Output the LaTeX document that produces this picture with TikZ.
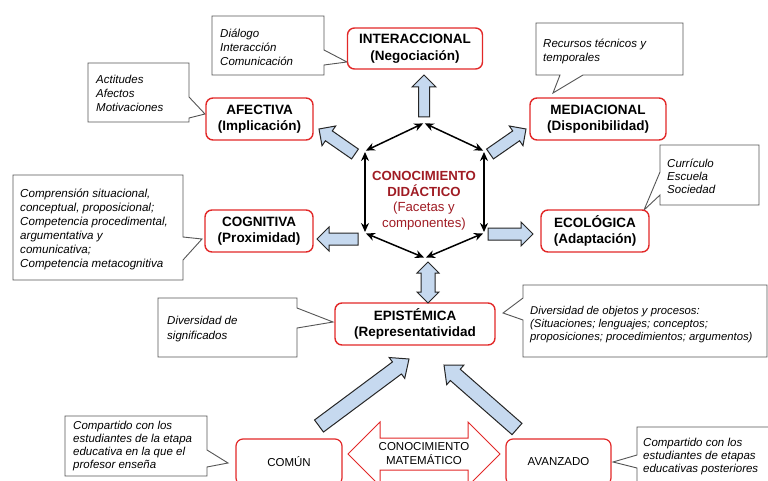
\documentclass[tikz,border=0pt]{standalone}
\usepackage{fontspec}
\setmainfont{Liberation Sans}
\usetikzlibrary{calc,arrows.meta}
\definecolor{boxred}{RGB}{226,40,40}
\definecolor{darkred}{RGB}{160,28,36}
\definecolor{arrfill}{RGB}{198,217,239}
\definecolor{callgray}{RGB}{85,85,85}
\tikzset{
 facet/.style={draw=boxred, line width=1.4pt, rounded corners=7pt, fill=white, align=center, font=\fontsize{13.5}{16.5}\selectfont\bfseries, inner sep=0pt},
 level/.style={draw=boxred, line width=1.2pt, rounded corners=7pt, fill=white, font=\fontsize{11.5}{14}\selectfont, inner sep=0pt},
 calltext/.style={align=left, anchor=north west, inner sep=0pt, font=\fontsize{11.5}{14}\selectfont\itshape},
 callout/.style={draw=callgray, line width=0.9pt, fill=white, line join=miter},
 barrow/.style={draw=black!85, line width=1pt, fill=arrfill, line join=miter},
 hexarrow/.style={{Stealth[length=9pt,width=8pt]}-{Stealth[length=9pt,width=8pt]}, line width=1.5pt, shorten >=1pt, shorten <=1pt},
}
\newcommand\blockarr[6]{%
 \coordinate (#1-hb) at ($(#3)!#6!(#2)$);
 \draw[barrow] ($(#2)!#4!90:(#3)$) -- ($(#1-hb)!#4!90:(#3)$) -- ($(#1-hb)!#5!90:(#3)$) -- (#3)
   -- ($(#1-hb)!#5!-90:(#3)$) -- ($(#1-hb)!#4!-90:(#3)$) -- ($(#2)!#4!-90:(#3)$) -- cycle;
}
\begin{document}
\begin{tikzpicture}[x=1pt,y=-1pt]
\useasboundingbox[fill=white] (0,0) rectangle (768,481);

% callouts
\draw[callout] (212,16) -- (324,16) -- (324,50) -- (347,62) -- (324,65) -- (324,75) -- (212,75) -- cycle;
\node[calltext] (tA) at (220,28.5) {Diálogo\\Interacción\\Comunicación};

\draw[callout] (88,63) -- (189,63) -- (189,97) -- (205,114) -- (189,118) -- (189,122) -- (88,122) -- cycle;
\node[calltext] (tB) at (96,74.5) {Actitudes\\Afectos\\Motivaciones};

\draw[callout] (13,175) -- (183,175) -- (183,237) -- (202,239) -- (183,260) -- (183,280) -- (13,280) -- cycle;
\node[calltext, font=\fontsize{11.6}{14}\selectfont\itshape] (tC) at (20,188.5) {Comprensión situacional,\\conceptual, proposicional;\\Competencia procedimental,\\argumentativa y\\comunicativa;\\Competencia metacognitiva};

\draw[callout] (536,23) -- (683,23) -- (683,75) -- (583,75) -- (553,93) -- (560,75) -- (536,75) -- cycle;
\node[calltext] (tD) at (543,38.5) {Recursos técnicos y\\temporales};

\draw[callout] (660,145) -- (759,145) -- (759,205) -- (660,205) -- (660,195) -- (644,210) -- (660,172) -- cycle;
\node[calltext, font=\fontsize{11.5}{13}\selectfont\itshape] (tE) at (667,158.5) {Currículo\\Escuela\\Sociedad};

\draw[callout] (158,298) -- (297,298) -- (297,308) -- (333,322) -- (297,328) -- (297,357) -- (158,357) -- cycle;
\node[calltext, font=\fontsize{11.5}{15}\selectfont\itshape] (tF) at (167,315.5) {Diversidad de\\significados};

\draw[callout] (523,285) -- (767,285) -- (767,357) -- (523,357) -- (523,320) -- (503,313) -- (523,298) -- cycle;
\node[calltext, font=\fontsize{11.3}{12.7}\selectfont\itshape] (tG) at (530,306.5) {Diversidad de objetos y procesos:\\(Situaciones; lenguajes; conceptos;\\proposiciones; procedimientos; argumentos)};

\draw[callout] (65,416) -- (207,416) -- (207,450) -- (228,463) -- (207,467) -- (207,476) -- (65,476) -- cycle;
\node[calltext, font=\fontsize{11.5}{13.3}\selectfont\itshape] (tH) at (73,420.5) {Compartido con los\\estudiantes de la etapa\\educativa en la que el\\profesor enseña};

\draw[callout] (637,427) -- (772,427) -- (772,490) -- (637,490) -- (637,468) -- (613,462) -- (637,455) -- cycle;
\node[calltext, font=\fontsize{11.5}{13}\selectfont\itshape] (tI) at (643,437.5) {Compartido con los\\estudiantes de etapas\\educativas posteriores};

% facet boxes
\node[facet, minimum width=135pt, minimum height=41pt] (inter) at (415,48.5) {INTERACCIONAL\\(Negociación)};
\node[facet, minimum width=107pt, minimum height=42pt] (afec) at (259.5,119) {AFECTIVA\\(Implicación)};
\node[facet, minimum width=136pt, minimum height=42pt] (medi) at (598,119) {MEDIACIONAL\\(Disponibilidad)};
\node[facet, minimum width=108pt, minimum height=42pt] (cogn) at (259,231) {COGNITIVA\\(Proximidad)};
\node[facet, minimum width=108pt, minimum height=42pt] (ecol) at (595,231) {ECOLÓGICA\\(Adaptación)};
\node[facet, minimum width=160pt, minimum height=42pt] (epis) at (415,324) {EPISTÉMICA\\(Representatividad};

% level boxes
\node[level, minimum width=106pt, minimum height=46pt] (comun) at (289,462) {COMÚN};
\node[level, minimum width=105pt, minimum height=46pt] (avan) at (558.5,462) {AVANZADO};

% mathematical knowledge double arrow
\draw[draw=boxred, line width=1pt, fill=white, line join=miter] (348,454) -- (380,422) -- (380,438) -- (468,438) -- (468,422) -- (500,454) -- (468,486) -- (468,470) -- (380,470) -- (380,486) -- cycle;
\node[align=center, font=\fontsize{11.5}{14}\selectfont] (mat) at (424,454) {CONOCIMIENTO\\MATEMÁTICO};

% hexagon
\coordinate (hT) at (424,123);
\coordinate (hUL) at (365,151);
\coordinate (hUR) at (484,151);
\coordinate (hLL) at (365,233);
\coordinate (hLR) at (484,233);
\coordinate (hB) at (425,258);
\draw[hexarrow] (hT) -- (hUL);
\draw[hexarrow] (hT) -- (hUR);
\draw[hexarrow] (hUL) -- (hLL);
\draw[hexarrow] (hUR) -- (hLR);
\draw[hexarrow] (hLL) -- (hB);
\draw[hexarrow] (hLR) -- (hB);
\node[align=center, text=darkred, font=\fontsize{13.2}{15.5}\selectfont] (cd) at (424,201) {\textbf{CONOCIMIENTO}\\\textbf{DIDÁCTICO}\\(Facetas y\\componentes)};

% block arrows
\coordinate (a1s) at (424,117); \coordinate (a1e) at (424,75);
\blockarr{a1}{a1s}{a1e}{5.5pt}{12pt}{12pt}
\coordinate (a2s) at (355,154); \coordinate (a2e) at (319,129);
\blockarr{a2}{a2s}{a2e}{6pt}{12pt}{12pt}
\coordinate (a3s) at (490,154); \coordinate (a3e) at (526,129);
\blockarr{a3}{a3s}{a3e}{6pt}{12pt}{12pt}
\coordinate (a4s) at (358,239); \coordinate (a4e) at (317,239);
\blockarr{a4}{a4s}{a4e}{6pt}{12pt}{12pt}
\coordinate (a5s) at (488,234); \coordinate (a5e) at (533,234);
\blockarr{a5}{a5s}{a5e}{6pt}{12pt}{12pt}
\coordinate (a7s) at (319,426); \coordinate (a7e) at (409,359);
\blockarr{a7}{a7s}{a7e}{7.5pt}{13pt}{15pt}
\coordinate (a8s) at (517,429); \coordinate (a8e) at (444,365);
\blockarr{a8}{a8s}{a8e}{7.5pt}{13pt}{15pt}
\draw[barrow] (428,262) -- (439,273) -- (435,273) -- (435,292) -- (439,292) -- (428,303) -- (417,292) -- (421,292) -- (421,273) -- (417,273) -- cycle;
\end{tikzpicture}
\end{document}
